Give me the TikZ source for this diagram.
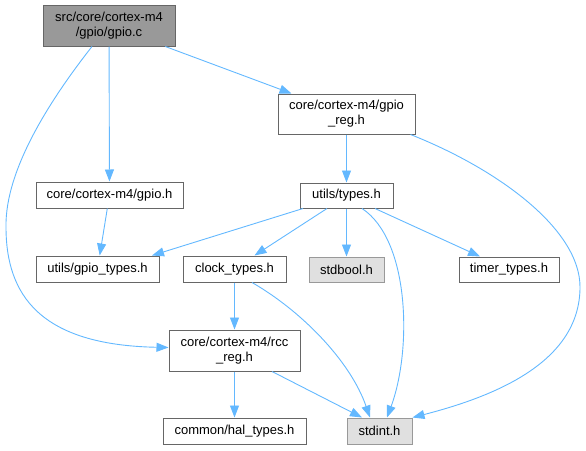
\documentclass[tikz,border=0pt]{standalone}
\usepackage{fontspec}
\setmainfont{Liberation Sans}
\usetikzlibrary{arrows.meta}
\definecolor{edgeblue}{HTML}{63B8FF}
\definecolor{rootfill}{HTML}{999999}
\definecolor{boxborder}{HTML}{666666}
\definecolor{sysfill}{HTML}{E0E0E0}
\definecolor{sysborder}{HTML}{999999}
\begin{document}
\begin{tikzpicture}[x=1pt,y=-1pt,
  box/.style={draw=boxborder,line width=1pt,fill=white,inner sep=0pt,align=center,
    font=\fontsize{13}{15}\selectfont},
  rootbox/.style={box,fill=rootfill},
  sysbox/.style={box,draw=sysborder,fill=sysfill},
  dep/.style={draw=edgeblue,line width=0.9pt,-{Triangle[length=12pt,width=9pt]}}]
\useasboundingbox (0,0) rectangle (586,450);
\node[rootbox,minimum width=132pt,minimum height=41pt] (gpioc) at (109,25.5) {src/core/cortex-m4\\/gpio/gpio.c};
\node[box,minimum width=137pt,minimum height=40pt] (gpioreg) at (346.5,114) {core/cortex-m4/gpio\\\_reg.h};
\node[box,minimum width=93pt,minimum height=25pt] (types) at (346.5,195.5) {utils/types.h};
\node[sysbox,minimum width=75pt,minimum height=25pt] (stdbool) at (346.5,269.5) {stdbool.h};
\node[box,minimum width=100pt,minimum height=25pt] (timer) at (509,269.5) {timer\_types.h};
\node[box,minimum width=147pt,minimum height=26pt] (gpioh) at (109.5,195) {core/cortex-m4/gpio.h};
\node[box,minimum width=123pt,minimum height=26pt] (gpiotypes) at (97.5,269) {utils/gpio\_types.h};
\node[box,minimum width=103pt,minimum height=26pt] (clock) at (234.5,269) {clock\_types.h};
\node[box,minimum width=131pt,minimum height=41pt] (rcc) at (234.5,350.5) {core/cortex-m4/rcc\\\_reg.h};
\node[box,minimum width=143pt,minimum height=26pt] (hal) at (234.5,431) {common/hal\_types.h};
\node[sysbox,minimum width=65pt,minimum height=26pt] (stdint) at (379.5,431) {stdint.h};

\draw[dep] (gpioc) -- (gpioreg);
\draw[dep] (gpioc) -- (gpioh);
\draw[dep] ([xshift=-17pt]gpioc.south) .. controls (50,100) and (5,170) .. (6,227)
  .. controls (6,295) and (40,345) .. ([yshift=3pt]rcc.west);
\draw[dep] (gpioreg) -- (types);
\draw[dep] ([xshift=-5pt]gpioreg.south east) .. controls (500,170) and (580,230) .. (580,287)
  .. controls (580,360) and (500,395) .. (stdint.north east);
\draw[dep] (gpioh) -- (gpiotypes);
\draw[dep] ([xshift=-43.5pt]types.south) -- ([xshift=54.5pt]gpiotypes.north);
\draw[dep] ([xshift=-19.5pt]types.south) -- ([xshift=20pt]clock.north);
\draw[dep] (types) -- (stdbool);
\draw[dep] ([xshift=28.5pt]types.south) -- ([xshift=-29pt]timer.north);
\draw[dep] ([xshift=15.5pt]types.south) .. controls (410,240) and (412,350) .. ([xshift=7.5pt]stdint.north);
\draw[dep] (clock) -- (rcc);
\draw[dep] ([xshift=17.5pt]clock.south) .. controls (300,310) and (350,360) .. ([xshift=-9.5pt]stdint.north);
\draw[dep] (rcc) -- (hal);
\draw[dep] ([xshift=37.5pt]rcc.south) -- ([xshift=-17.5pt]stdint.north);
\end{tikzpicture}
\end{document}
